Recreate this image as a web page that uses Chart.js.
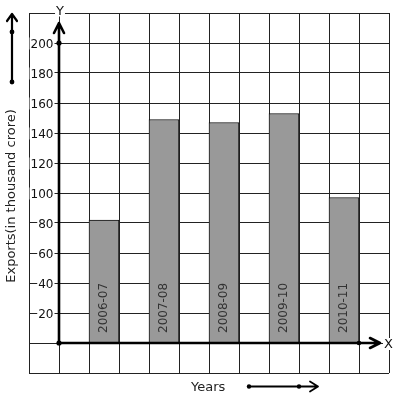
<!DOCTYPE html>
<html>
<head>
<meta charset="utf-8">
<script src="https://cdn.jsdelivr.net/npm/chart.js@4.4.1/dist/chart.umd.min.js"></script>
<style>
html,body{margin:0;padding:0;background:#fff;}
canvas{display:block;}
</style>
</head>
<body>
<canvas id="c" width="397" height="399"></canvas>
<script>
// ---- data ----
const categories = ['2006-07', '2007-08', '2008-09', '2009-10', '2010-11'];
const exportsValues = [82, 149, 147, 153, 97];
const yTickLabels = [20, 40, 60, 80, 100, 120, 140, 160, 180, 200];
const yAxisTitle = 'Exports(in thousand crore)';
const xAxisTitle = 'Years';

// graph-paper columns: two empty columns, then each year followed by an empty column
const slotLabels = ['', ''];
const slotValues = [null, null];
categories.forEach((c, i) => {
  slotLabels.push(c); slotValues.push(exportsValues[i]);
  slotLabels.push(''); slotValues.push(null);
});

const FONT = '"DejaVu Sans", sans-serif';

function dot(ctx, x, y, r) {
  ctx.beginPath(); ctx.arc(x, y, r, 0, Math.PI * 2); ctx.fill();
}
function textWithBg(ctx, txt, x, y, align) {
  ctx.textAlign = align;
  const w = ctx.measureText(txt).width;
  let left = align === 'right' ? x - w : (align === 'center' ? x - w / 2 : x);
  ctx.save();
  ctx.fillStyle = '#fff';
  ctx.fillRect(left - 1, y - 10, w + 2, 12);
  ctx.restore();
  ctx.fillText(txt, x, y);
}

const overlay = {
  id: 'overlay',
  afterDraw(chart) {
    const ctx = chart.ctx;
    const xs = chart.scales.x, ys = chart.scales.y;
    const ox = (xs.getPixelForValue(0) + xs.getPixelForValue(1)) / 2;
    const oy = ys.getPixelForValue(0);
    const area = chart.chartArea;
    ctx.save();
    ctx.strokeStyle = '#000';
    ctx.fillStyle = '#000';
    ctx.lineCap = 'round';
    ctx.lineJoin = 'round';

    // y tick labels
    ctx.font = '12px ' + FONT;
    ctx.fillStyle = '#111';
    ctx.textBaseline = 'alphabetic';
    yTickLabels.forEach(v => {
      const py = ys.getPixelForValue(v);
      textWithBg(ctx, String(v), ox - 5.5, py + 4.5, 'right');
    });

    // axes
    ctx.fillStyle = '#000';
    ctx.lineWidth = 2.6;
    const yTop = area.top + 10;
    ctx.beginPath();
    ctx.moveTo(ox, oy); ctx.lineTo(ox, yTop);
    ctx.moveTo(ox - 5, yTop + 10); ctx.lineTo(ox, yTop); ctx.lineTo(ox + 5, yTop + 10);
    ctx.stroke();
    const xEnd = area.right - 9;
    ctx.beginPath();
    ctx.moveTo(ox, oy); ctx.lineTo(xEnd, oy);
    ctx.moveTo(xEnd - 10, oy - 5); ctx.lineTo(xEnd, oy); ctx.lineTo(xEnd - 10, oy + 5);
    ctx.stroke();
    dot(ctx, ox, oy, 2.6);
    dot(ctx, ox, ys.getPixelForValue(200), 2.6);
    dot(ctx, (xs.getPixelForValue(10) + xs.getPixelForValue(11)) / 2, oy, 2.3);

    // axis letters
    ctx.font = '13px ' + FONT;
    ctx.fillStyle = '#111';
    textWithBg(ctx, 'Y', ox + 1, area.top + 1.5, 'center');
    textWithBg(ctx, 'X', xEnd + 4, oy + 5, 'left');

    // bar labels
    ctx.font = '12px ' + FONT;
    ctx.fillStyle = '#333';
    ctx.textAlign = 'left';
    ctx.textBaseline = 'middle';
    const meta = chart.getDatasetMeta(0);
    meta.data.forEach((bar, i) => {
      const lbl = slotLabels[i];
      if (!lbl || slotValues[i] == null) return;
      ctx.save();
      ctx.translate(bar.x - 0.5, oy - 10);
      ctx.rotate(-Math.PI / 2);
      ctx.fillText(lbl, 0, 0);
      ctx.restore();
    });

    // y title
    ctx.font = '13px ' + FONT;
    ctx.fillStyle = '#222';
    ctx.textAlign = 'center';
    ctx.textBaseline = 'middle';
    ctx.save();
    ctx.translate(12, (area.top + area.bottom) / 2 + 3);
    ctx.rotate(-Math.PI / 2);
    ctx.fillText(yAxisTitle, 0, 0);
    ctx.restore();

    // decorative up arrow (left)
    ctx.strokeStyle = '#000';
    ctx.fillStyle = '#000';
    ctx.lineWidth = 2.2;
    ctx.beginPath();
    ctx.moveTo(12, 82); ctx.lineTo(12, 14);
    ctx.moveTo(7, 21); ctx.lineTo(12, 14); ctx.lineTo(17, 21);
    ctx.stroke();
    dot(ctx, 12, 32, 2.4);
    dot(ctx, 12, 82, 2.4);

    // x title + arrow
    ctx.fillStyle = '#222';
    ctx.textAlign = 'left';
    ctx.textBaseline = 'alphabetic';
    ctx.fillText(xAxisTitle, 191, 390.5);
    ctx.fillStyle = '#000';
    ctx.lineWidth = 1.8;
    ctx.beginPath();
    ctx.moveTo(249, 386.5); ctx.lineTo(318, 386.5);
    ctx.moveTo(310, 381.5); ctx.lineTo(318, 386.5); ctx.lineTo(310, 391.5);
    ctx.stroke();
    dot(ctx, 249, 386.5, 2.2);
    dot(ctx, 299, 386.5, 2.2);
    ctx.restore();
  }
};

new Chart(document.getElementById('c'), {
  type: 'bar',
  data: {
    labels: slotLabels,
    datasets: [{
      data: slotValues,
      backgroundColor: '#999999',
      borderColor: '#111',
      borderWidth: 1,
      barPercentage: 1,
      categoryPercentage: 1
    }]
  },
  options: {
    responsive: false,
    animation: false,
    layout: { padding: { left: 29, top: 13, right: 8, bottom: 26 } },
    plugins: { legend: { display: false }, tooltip: { enabled: false } },
    scales: {
      x: {
        type: 'category',
        offset: true,
        ticks: { display: false },
        border: { display: false },
        grid: { offset: true, color: '#222', lineWidth: 1, drawTicks: false }
      },
      y: {
        min: -20, max: 220,
        ticks: { display: false, stepSize: 20 },
        border: { display: false },
        grid: { color: '#222', lineWidth: 1, drawTicks: false }
      }
    }
  },
  plugins: [overlay]
});
</script>
</body>
</html>
